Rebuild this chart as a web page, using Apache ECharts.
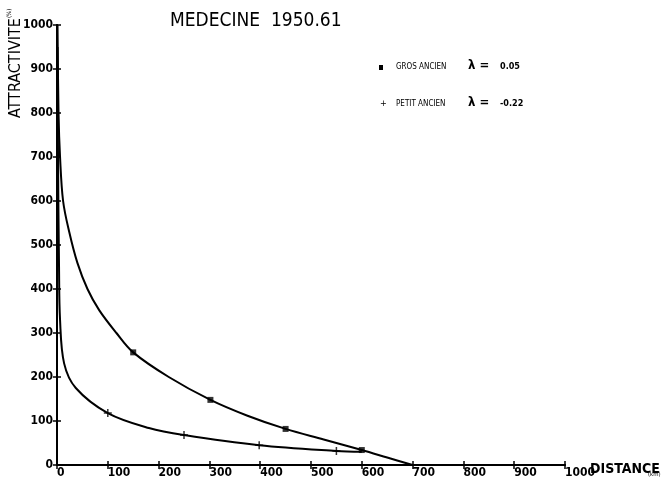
<!DOCTYPE html>
<html><head><meta charset="utf-8">
<script src="https://cdn.jsdelivr.net/npm/echarts@6/dist/echarts.min.js"></script>
<style>html,body{margin:0;padding:0;background:#fff}#c{width:666px;height:487px}</style>
</head><body><div id="c"></div>
<script>
// Data
const xTicks = [0,100,200,300,400,500,600,700,800,900,1000];
const yTicks = [0,100,200,300,400,500,600,700,800,900,1000];
const grosCurve = [[1,1000],[3,800],[6,700],[12,600],[24,530],[40,460],[60,400],[83,352],[117,300],[150,256],[220,200],[302,148],[375,112],[450,82],[525,58],[600,34],[650,17],[700,0]];
const petitCurve = [[1,950],[2,700],[4,450],[6,330],[14,231],[37,175],[100,118],[181,84],[250,68],[398,45],[550,32],[600,30]];
const grosMarks = [[150,256],[302,148],[450,82],[600,34]];
const petitMarks = [[100,118],[250,68],[398,45],[550,32]];
const titleText = 'MEDECINE  1950.61';
const legendGros = ['GROS ANCIEN', '\u03bb =', '0.05'];
const legendPetit = ['PETIT ANCIEN', '\u03bb =', '-0.22'];

const F = '"Liberation Sans Narrow", "DejaVu Sans Condensed", sans-serif';
const chart = echarts.init(document.getElementById('c'));
const axisCommon = {
  type: 'value', min: 0, max: 1000, interval: 100,
  splitLine: {show: false},
  axisLine: {show: true, lineStyle: {color: '#000', width: 2}},
};
chart.setOption({
  backgroundColor: '#fff',
  animation: false,
  title: {text: titleText, left: 165, top: 7,
    textStyle: {fontFamily: F, fontSize: 19, fontWeight: 'normal', color: '#000'}},
  grid: {left: 57, right: 101, top: 25, bottom: 22},
  xAxis: [
    Object.assign({}, axisCommon, {
      axisTick: {show: true, length: 4, lineStyle: {color: '#000', width: 1.5}},
      axisLabel: {color: '#000', fontFamily: F, fontWeight: 'bold', fontSize: 12, margin: 2, align: 'left', formatter: v => String(v)}
    }),
    Object.assign({}, axisCommon, {position: 'bottom',
      axisTick: {show: true, inside: true, length: 4, lineStyle: {color: '#000', width: 1.5}},
      axisLabel: {show: false}})
  ],
  yAxis: [
    Object.assign({}, axisCommon, {
      axisTick: {show: true, length: 4, lineStyle: {color: '#000', width: 1.5}},
      axisLabel: {color: '#000', fontFamily: F, fontWeight: 'bold', fontSize: 12, margin: 4, formatter: v => String(v)}
    }),
    Object.assign({}, axisCommon, {position: 'left',
      axisTick: {show: true, inside: true, length: 4, lineStyle: {color: '#000', width: 1.5}},
      axisLabel: {show: false}})
  ],
  series: [
    {type: 'line', data: grosCurve, smooth: 0.35, showSymbol: false,
      lineStyle: {color: '#000', width: 2}},
    {type: 'line', data: petitCurve, smooth: 0.35, showSymbol: false,
      lineStyle: {color: '#000', width: 2}},
    {type: 'scatter', data: grosMarks, symbol: 'rect', symbolSize: 6,
      itemStyle: {color: '#000'}},
    {type: 'scatter', data: petitMarks, symbol: 'path://M0,-5L0,5M-5,0L5,0', symbolSize: 8,
      itemStyle: {color: 'none', borderColor: '#000', borderWidth: 1.5}}
  ],
  graphic: [
    {type: 'text', x: 8, y: 118, rotation: Math.PI/2, style: {text: 'ATTRACTIVITE', font: '16px ' + F, fill: '#000'}},
    {type: 'text', x: 6, y: 18, rotation: Math.PI/2, style: {text: '(%)', font: '6px ' + F, fill: '#000'}},
    {type: 'text', x: 590, y: 462, style: {text: 'DISTANCE', font: 'bold 14px ' + F, fill: '#000'}},
    {type: 'text', x: 648, y: 471, style: {text: '(km)', font: '6px ' + F, fill: '#000'}},
    {type: 'rect', shape: {x: 379, y: 65, width: 4, height: 5}, style: {fill: '#000'}},
    {type: 'text', x: 396, y: 63, style: {text: legendGros[0], font: '8px ' + F, fill: '#000'}},
    {type: 'text', x: 468, y: 59, style: {text: legendGros[1], font: 'bold 13px ' + F, fill: '#000'}},
    {type: 'text', x: 500, y: 62, style: {text: legendGros[2], font: 'bold 9px ' + F, fill: '#000'}},
    {type: 'text', x: 380, y: 99, style: {text: '+', font: '9px ' + F, fill: '#000'}},
    {type: 'text', x: 396, y: 100, style: {text: legendPetit[0], font: '8px ' + F, fill: '#000'}},
    {type: 'text', x: 468, y: 96, style: {text: legendPetit[1], font: 'bold 13px ' + F, fill: '#000'}},
    {type: 'text', x: 500, y: 99, style: {text: legendPetit[2], font: 'bold 9px ' + F, fill: '#000'}}
  ]
});
</script></body></html>
